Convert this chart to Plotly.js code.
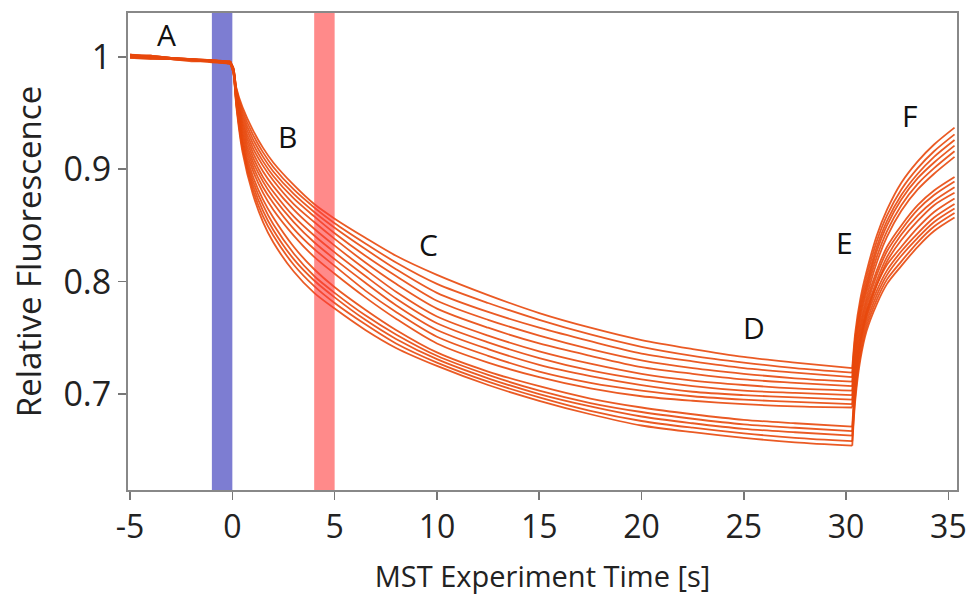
<!DOCTYPE html>
<html>
<head>
<meta charset="utf-8">
<script src="https://cdn.plot.ly/plotly-3.0.1.min.js"></script>
<style>html,body{margin:0;padding:0;background:#fff;}#chart{width:966px;height:595px;}</style>
</head>
<body>
<div id="chart"></div>
<script>
// Shared time axis [s]
const time = [-5, -4, -3, -2, -1, -0.1, 0.05, 0.2, 0.5, 1, 1.5, 2, 3, 4, 5, 6.5, 8, 10, 12.5, 15, 17.5, 20, 22.5, 25, 27.5, 30.3, 30.45, 30.7, 31, 31.5, 32, 32.7, 33.5, 34.3, 35.3];

// Relative fluorescence traces
const trace01 = [1.001, 1.000, 0.999, 0.998, 0.997, 0.996, 0.990, 0.972, 0.955, 0.935, 0.919, 0.906, 0.886, 0.869, 0.856, 0.839, 0.823, 0.806, 0.788, 0.772, 0.759, 0.748, 0.740, 0.733, 0.728, 0.723, 0.755, 0.785, 0.809, 0.841, 0.864, 0.888, 0.907, 0.922, 0.937];
const trace02 = [1.000, 0.999, 0.999, 0.997, 0.996, 0.995, 0.990, 0.971, 0.952, 0.931, 0.915, 0.902, 0.882, 0.866, 0.852, 0.834, 0.817, 0.798, 0.781, 0.766, 0.753, 0.742, 0.734, 0.728, 0.723, 0.719, 0.751, 0.780, 0.804, 0.836, 0.859, 0.882, 0.901, 0.916, 0.931];
const trace03 = [1.002, 1.000, 0.998, 0.998, 0.997, 0.995, 0.990, 0.970, 0.949, 0.927, 0.911, 0.898, 0.878, 0.862, 0.848, 0.829, 0.811, 0.790, 0.773, 0.759, 0.747, 0.736, 0.729, 0.723, 0.719, 0.715, 0.747, 0.776, 0.799, 0.831, 0.854, 0.877, 0.896, 0.911, 0.926];
const trace04 = [0.999, 0.999, 0.998, 0.997, 0.996, 0.994, 0.989, 0.969, 0.946, 0.923, 0.907, 0.894, 0.874, 0.858, 0.843, 0.823, 0.805, 0.783, 0.766, 0.752, 0.740, 0.730, 0.723, 0.718, 0.714, 0.711, 0.743, 0.772, 0.795, 0.827, 0.850, 0.873, 0.892, 0.906, 0.921];
const trace05 = [1.000, 1.001, 0.999, 0.997, 0.996, 0.995, 0.989, 0.968, 0.943, 0.919, 0.903, 0.890, 0.869, 0.853, 0.838, 0.817, 0.798, 0.776, 0.759, 0.745, 0.734, 0.724, 0.718, 0.713, 0.710, 0.707, 0.738, 0.768, 0.791, 0.822, 0.845, 0.868, 0.887, 0.901, 0.916];
const trace06 = [1.001, 0.999, 0.998, 0.998, 0.996, 0.996, 0.989, 0.967, 0.940, 0.915, 0.898, 0.885, 0.864, 0.847, 0.832, 0.811, 0.791, 0.769, 0.752, 0.738, 0.727, 0.718, 0.712, 0.708, 0.705, 0.703, 0.734, 0.763, 0.786, 0.817, 0.840, 0.863, 0.882, 0.896, 0.911];
const trace07 = [1.000, 1.000, 0.999, 0.997, 0.997, 0.995, 0.988, 0.966, 0.937, 0.911, 0.893, 0.880, 0.858, 0.841, 0.826, 0.805, 0.785, 0.763, 0.746, 0.732, 0.721, 0.713, 0.707, 0.703, 0.701, 0.699, 0.730, 0.759, 0.782, 0.810, 0.831, 0.850, 0.868, 0.881, 0.893];
const trace08 = [1.002, 1.001, 0.999, 0.998, 0.996, 0.995, 0.988, 0.965, 0.934, 0.907, 0.889, 0.875, 0.853, 0.835, 0.820, 0.799, 0.779, 0.757, 0.740, 0.726, 0.716, 0.708, 0.702, 0.699, 0.697, 0.695, 0.726, 0.755, 0.778, 0.806, 0.827, 0.846, 0.864, 0.877, 0.889];
const trace09 = [0.999, 0.998, 0.998, 0.997, 0.996, 0.994, 0.988, 0.963, 0.931, 0.903, 0.884, 0.870, 0.847, 0.829, 0.814, 0.792, 0.773, 0.751, 0.734, 0.720, 0.710, 0.703, 0.698, 0.695, 0.693, 0.691, 0.722, 0.751, 0.774, 0.801, 0.822, 0.842, 0.859, 0.872, 0.884];
const trace10 = [1.001, 1.000, 0.998, 0.997, 0.997, 0.996, 0.987, 0.962, 0.928, 0.899, 0.879, 0.864, 0.841, 0.822, 0.807, 0.786, 0.767, 0.745, 0.728, 0.715, 0.705, 0.698, 0.694, 0.691, 0.689, 0.688, 0.719, 0.747, 0.770, 0.797, 0.818, 0.837, 0.854, 0.868, 0.879];
const trace11 = [1.000, 0.999, 0.999, 0.998, 0.996, 0.995, 0.987, 0.960, 0.925, 0.894, 0.873, 0.857, 0.831, 0.811, 0.795, 0.775, 0.757, 0.737, 0.720, 0.707, 0.696, 0.688, 0.682, 0.677, 0.674, 0.671, 0.712, 0.748, 0.773, 0.797, 0.815, 0.831, 0.848, 0.862, 0.874];
const trace12 = [1.001, 1.001, 0.999, 0.997, 0.996, 0.995, 0.987, 0.959, 0.922, 0.890, 0.868, 0.851, 0.825, 0.805, 0.790, 0.770, 0.753, 0.734, 0.717, 0.703, 0.692, 0.684, 0.678, 0.673, 0.670, 0.667, 0.707, 0.744, 0.768, 0.792, 0.810, 0.827, 0.843, 0.857, 0.869];
const trace13 = [1.000, 0.999, 0.998, 0.997, 0.995, 0.994, 0.986, 0.958, 0.920, 0.886, 0.863, 0.846, 0.820, 0.801, 0.786, 0.766, 0.749, 0.731, 0.714, 0.700, 0.689, 0.680, 0.674, 0.669, 0.666, 0.663, 0.703, 0.740, 0.764, 0.788, 0.806, 0.823, 0.839, 0.853, 0.865];
const trace14 = [1.002, 1.000, 0.999, 0.998, 0.997, 0.995, 0.986, 0.957, 0.918, 0.882, 0.858, 0.841, 0.815, 0.796, 0.781, 0.762, 0.745, 0.728, 0.711, 0.697, 0.685, 0.676, 0.670, 0.665, 0.661, 0.658, 0.699, 0.735, 0.760, 0.784, 0.802, 0.818, 0.835, 0.849, 0.861];
const trace15 = [1.000, 0.999, 0.998, 0.996, 0.996, 0.994, 0.986, 0.955, 0.915, 0.878, 0.853, 0.835, 0.809, 0.790, 0.776, 0.757, 0.741, 0.725, 0.708, 0.694, 0.682, 0.672, 0.666, 0.661, 0.657, 0.654, 0.695, 0.731, 0.756, 0.780, 0.798, 0.814, 0.831, 0.845, 0.857];

// Phase labels
const phaseLabels = ["A", "B", "C", "D", "E", "F"];
const phaseX = [-3.2, 2.7, 9.6, 25.5, 29.9, 33.1];
const phaseY = [1.020, 0.929, 0.833, 0.759, 0.835, 0.948];

// Highlighted windows [s]
const coldWindow = [-1, 0];
const hotWindow = [4, 5];

// Tick labels
const xTickVals = [-5, 0, 5, 10, 15, 20, 25, 30, 35];
const xTickText = ["-5", "0", "5", "10", "15", "20", "25", "30", "35"];
const yTickVals = [0.7, 0.8, 0.9, 1];
const yTickText = ["0.7", "0.8", "0.9", "1"];

const allTraces = [trace01, trace02, trace03, trace04, trace05, trace06, trace07, trace08,
                   trace09, trace10, trace11, trace12, trace13, trace14, trace15];

// Phase boundaries as indices into the time array
const laserOnIdx = time.indexOf(-0.1);
const laserOffIdx = time.indexOf(30.3);

const lineStyle = {color: "rgba(232,72,12,0.9)", width: 1.8};
const data = [];
allTraces.forEach(v => {
  const segs = [
    [0, laserOnIdx + 1, "linear"],
    [laserOnIdx, laserOffIdx + 1, "spline"],
    [laserOffIdx, time.length, "spline"]
  ];
  segs.forEach(([a, b, shape]) => {
    data.push({
      x: time.slice(a, b), y: v.slice(a, b), type: "scatter", mode: "lines",
      line: Object.assign({}, lineStyle, {shape: shape, smoothing: 0.8}),
      hoverinfo: "skip", showlegend: false
    });
  });
});

const font = "'Open Sans', 'DejaVu Sans', sans-serif";

const layout = {
  width: 966, height: 595,
  margin: {l: 128, r: 9, t: 13, b: 105},
  paper_bgcolor: "#ffffff", plot_bgcolor: "#ffffff",
  showlegend: false,
  font: {family: font, color: "#222"},
  xaxis: {
    range: [-5.1, 35.42],
    tickvals: xTickVals, ticktext: xTickText,
    ticks: "outside", ticklen: 8, tickwidth: 1.5, tickcolor: "#777",
    showline: true, linecolor: "#888", linewidth: 2, mirror: true,
    showgrid: false, zeroline: false,
    ticklabeloverflow: "allow",
    tickfont: {size: 32, family: font, color: "#222"},
    title: {text: "MST Experiment Time [s]", font: {size: 29, family: font, color: "#222"}, standoff: 21}
  },
  yaxis: {
    range: [0.6146, 1.039],
    tickvals: yTickVals, ticktext: yTickText,
    ticks: "outside", ticklen: 8, tickwidth: 1.5, tickcolor: "#777",
    showline: true, linecolor: "#888", linewidth: 2, mirror: true,
    showgrid: false, zeroline: false,
    tickfont: {size: 34, family: font, color: "#222"},
    title: {text: "Relative Fluorescence", font: {size: 33, family: font, color: "#222"}, standoff: 12}
  },
  shapes: [
    {type: "rect", xref: "x", yref: "paper", x0: coldWindow[0], x1: coldWindow[1], y0: 0, y1: 1,
     fillcolor: "rgb(125,125,210)", line: {width: 0}, layer: "below"},
    {type: "rect", xref: "x", yref: "paper", x0: hotWindow[0], x1: hotWindow[1], y0: 0, y1: 1,
     fillcolor: "rgba(255,60,60,0.6)", line: {width: 0}, layer: "above"}
  ],
  annotations: phaseLabels.map((t, i) => ({
    x: phaseX[i], y: phaseY[i], xref: "x", yref: "y", text: t, showarrow: false,
    font: {size: 30, family: font, color: "#111"}
  }))
};

Plotly.newPlot("chart", data, layout, {displayModeBar: false, staticPlot: true});
</script>
</body>
</html>
